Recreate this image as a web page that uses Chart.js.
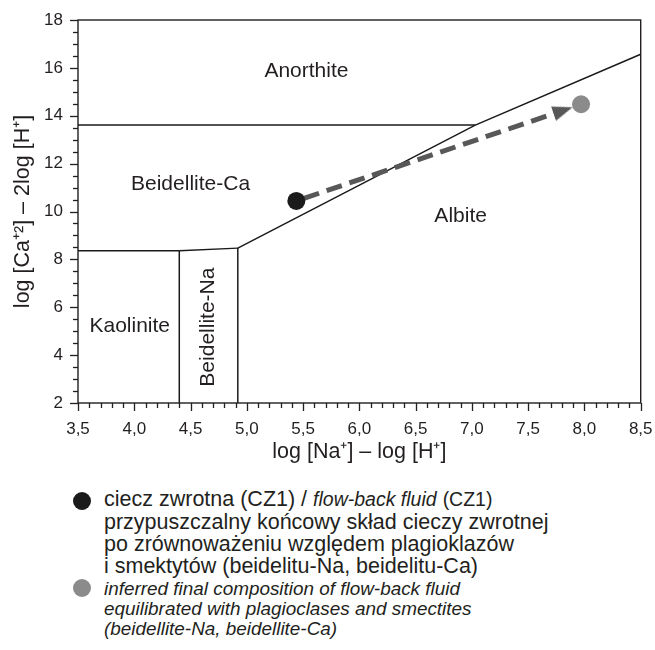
<!DOCTYPE html>
<html><head><meta charset="utf-8">
<script src="https://cdn.jsdelivr.net/npm/chart.js@4.4.1/dist/chart.umd.min.js"></script>
<style>
html,body{margin:0;padding:0;background:#fff}
body{width:655px;height:650px;position:relative;overflow:hidden;font-family:'Liberation Sans',Arial,sans-serif;color:#231f20}
#wrap{position:absolute;left:0;top:0;width:655px;height:470px}
.dot{position:absolute;width:18px;height:18px;border-radius:50%}
.txt{position:absolute;left:104px;white-space:nowrap}
.en{font-size:19.5px}
</style></head><body>
<div id="wrap"><canvas id="c" width="655" height="470"></canvas></div>
<div class="dot" style="left:73px;top:492px;background:#1b1b1b"></div>
<div class="dot" style="left:73px;top:579px;background:#8b8b8b"></div>
<div class="txt" style="top:488px;font-size:21.5px;line-height:22.3px">ciecz zwrotna (CZ1) / <i class="en">flow-back fluid</i> <span class="en">(CZ1)</span></div>
<div class="txt" style="top:511px;font-size:21.5px;line-height:22px">przypuszczalny końcowy skład cieczy zwrotnej<br>po zrównoważeniu względem plagioklazów<br>i smektytów (beidelitu-Na, beidelitu-Ca)</div>
<div class="txt" style="top:578.5px;font-size:18.9px;line-height:20.2px;font-style:italic">inferred final composition of flow-back fluid<br>equilibrated with plagioclases and smectites<br>(beidellite-Na, beidellite-Ca)</div>
<script>
// ---- axis ranges / ticks ----
const xRange = [3.5, 8.5];
const yRange = [2, 18];
const xMinorStep = 0.1, xMajorStep = 0.5;
const yMinorStep = 0.5, yMajorStep = 2;

// ---- sample points ----
const flowBackX = [5.44], flowBackY = [10.44];          // ciecz zwrotna (CZ1)
const finalX = [7.97], finalY = [14.48];                 // inferred final composition
const arrowX = [5.44, 7.81], arrowY = [10.44, 14.22];    // evolution path (arrow)

// ---- stability field boundaries ----
const bAnorthBeidCaX = [3.5, 7.03], bAnorthBeidCaY = [13.61, 13.61];
const bAlbiteX = [4.92, 7.03, 8.5], bAlbiteY = [8.47, 13.61, 16.57];
const bKaolBeidCaX = [3.5, 4.40], bKaolBeidCaY = [8.36, 8.36];
const bBeidNaBeidCaX = [4.40, 4.92], bBeidNaBeidCaY = [8.36, 8.47];
const bKaolBeidNaX = [4.40, 4.40], bKaolBeidNaY = [2, 8.36];
const bBeidNaAlbiteX = [4.92, 4.92], bBeidNaAlbiteY = [2, 8.47];

// ---- field labels (anchored in data units) ----
const regionNames = ['Anorthite', 'Beidellite-Ca', 'Albite', 'Kaolinite', 'Beidellite-Na'];
const regionX = [5.53, 4.50, 6.90, 3.96, 4.66];
const regionY = [15.87, 11.14, 9.79, 5.19, 5.17];
const regionVertical = [false, false, false, false, true];

const INK = '#231f20';
const FONT = "'Liberation Sans', Arial, sans-serif";
const pts = (xs, ys) => xs.map((v, i) => ({x: v, y: ys[i]}));
const isMult = (v, s) => Math.abs(v / s - Math.round(v / s)) < 1e-6;

// arrowhead sprite
const head = document.createElement('canvas');
head.width = 15; head.height = 20;
(function(){const h = head.getContext('2d'); h.fillStyle = '#585858'; h.beginPath(); h.moveTo(7.5, 0); h.lineTo(15, 20); h.lineTo(0, 20); h.closePath(); h.fill();})();

function boundary(xs, ys) {
  return {data: pts(xs, ys), showLine: true, borderColor: '#1a1a1a', borderWidth: 1.5, pointRadius: 0, pointHoverRadius: 0, fill: false, tension: 0};
}

const framePlugin = {
  id: 'frameTicks',
  afterDraw(chart) {
    const {ctx, chartArea: a, scales: {x, y}} = chart;
    ctx.save();
    ctx.strokeStyle = INK; ctx.lineWidth = 1.3;
    x.ticks.forEach(t => {
      const px = Math.round(x.getPixelForValue(t.value)) + 0.5;
      const len = isMult(t.value, xMajorStep) ? 8 : 5;
      ctx.beginPath(); ctx.moveTo(px, a.bottom); ctx.lineTo(px, a.bottom + len); ctx.stroke();
    });
    y.ticks.forEach(t => {
      const py = Math.round(y.getPixelForValue(t.value)) + 0.5;
      const len = isMult(t.value, yMajorStep) ? 8 : 5;
      ctx.beginPath(); ctx.moveTo(a.left, py); ctx.lineTo(a.left - len, py); ctx.stroke();
    });
    ctx.lineWidth = 1.4;
    ctx.strokeRect(a.left, a.top, a.right - a.left, a.bottom - a.top);
    ctx.restore();
  }
};

const regionPlugin = {
  id: 'regions',
  afterDatasetsDraw(chart) {
    const {ctx, scales: {x, y}} = chart;
    ctx.save();
    ctx.fillStyle = INK; ctx.font = '21px ' + FONT;
    ctx.textAlign = 'center'; ctx.textBaseline = 'middle';
    regionNames.forEach((n, i) => {
      ctx.save();
      ctx.translate(x.getPixelForValue(regionX[i]), y.getPixelForValue(regionY[i]));
      if (regionVertical[i]) ctx.rotate(-Math.PI / 2);
      ctx.fillText(n, 0, 0);
      ctx.restore();
    });
    ctx.restore();
  }
};

new Chart(document.getElementById('c'), {
  type: 'scatter',
  data: {
    datasets: [
      {label: 'ciecz zwrotna (CZ1)', data: pts(flowBackX, flowBackY), pointRadius: 9, pointBackgroundColor: '#1b1b1b', pointBorderWidth: 0, borderWidth: 0},
      {label: 'final', data: pts(finalX, finalY), pointRadius: 9, pointBackgroundColor: '#8b8b8b', pointBorderWidth: 0, borderWidth: 0},
      {label: 'arrow', data: pts(arrowX, arrowY), showLine: true, borderColor: '#585858', borderWidth: 5,
        borderDash: [16, 8], borderDashOffset: -8, borderCapStyle: 'butt',
        pointRadius: [0, 10], pointStyle: head, pointBorderWidth: 0,
        rotation: (c) => {
          const xs = c.chart.scales.x, ys = c.chart.scales.y;
          if (!xs || !ys) return 0;
          const dx = xs.getPixelForValue(arrowX[1]) - xs.getPixelForValue(arrowX[0]);
          const dy = ys.getPixelForValue(arrowY[1]) - ys.getPixelForValue(arrowY[0]);
          return Math.atan2(dx, -dy) * 180 / Math.PI;
        }},
      boundary(bAnorthBeidCaX, bAnorthBeidCaY),
      boundary(bAlbiteX, bAlbiteY),
      boundary(bKaolBeidCaX, bKaolBeidCaY),
      boundary(bBeidNaBeidCaX, bBeidNaBeidCaY),
      boundary(bKaolBeidNaX, bKaolBeidNaY),
      boundary(bBeidNaAlbiteX, bBeidNaAlbiteY)
    ]
  },
  options: {
    responsive: false,
    animation: false,
    events: [],
    layout: {padding: {top: 20, right: 14.3, left: 0, bottom: 0}},
    plugins: {legend: {display: false}, tooltip: {enabled: false}},
    scales: {
      x: {
        type: 'linear', position: 'bottom', min: xRange[0], max: xRange[1],
        afterFit: s => { s.height = 67; s.paddingLeft = 0; s.paddingRight = 0; },
        border: {display: false},
        grid: {display: true, drawOnChartArea: false, drawTicks: true, tickLength: 8, tickColor: 'rgba(0,0,0,0)'},
        ticks: {stepSize: xMinorStep, autoSkip: false, maxRotation: 0, padding: 8, color: INK,
          font: {family: FONT, size: 17},
          callback: v => isMult(v, xMajorStep) ? v.toFixed(1).replace('.', ',') : ''},
        title: {display: true, text: 'log [Na⁺] – log [H⁺]', color: INK,
          font: {family: FONT, size: 21.5}, padding: {top: 0, bottom: 5}}
      },
      y: {
        type: 'linear', position: 'left', min: yRange[0], max: yRange[1],
        afterFit: s => { s.width = 78; s.paddingTop = 0; s.paddingBottom = 0; },
        border: {display: false},
        grid: {display: true, drawOnChartArea: false, drawTicks: true, tickLength: 8, tickColor: 'rgba(0,0,0,0)'},
        ticks: {stepSize: yMinorStep, autoSkip: false, padding: 7, color: INK,
          font: {family: FONT, size: 17},
          callback: v => isMult(v, yMajorStep) ? String(v) : ''},
        title: {display: true, text: 'log [Ca⁺²] – 2log [H⁺]', color: INK,
          font: {family: FONT, size: 21.5}, padding: {top: 10.5, bottom: 0}}
      }
    }
  },
  plugins: [regionPlugin, framePlugin]
});
</script>
</body></html>
